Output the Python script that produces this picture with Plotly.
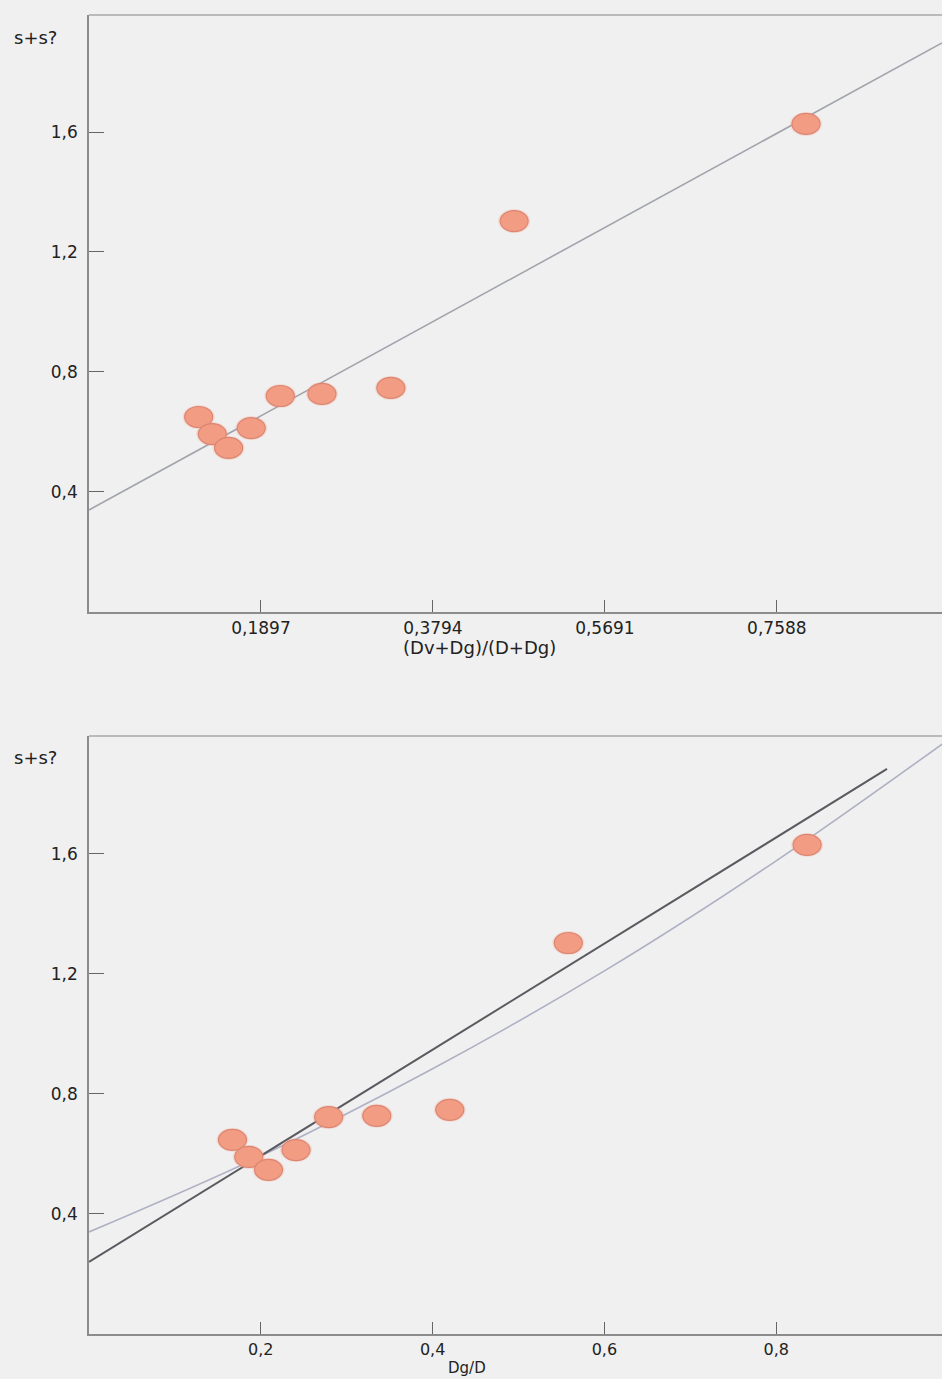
import plotly.graph_objects as go

# Upper panel: s+s? against (Dv+Dg)/(D+Dg)
ratio_dv = [0.121, 0.136, 0.154, 0.179, 0.211, 0.257, 0.333, 0.469, 0.791]
ss_top = [0.650, 0.593, 0.547, 0.613, 0.720, 0.727, 0.747, 1.303, 1.627]
fit_top_x = [0.0, 0.941]
fit_top_y = [0.34, 1.897]
top_xticks = [0.1897, 0.3794, 0.5691, 0.7588]
top_xlabels = ["0,1897", "0,3794", "0,5691", "0,7588"]

# Lower panel: s+s? against Dg/D
ratio_dg = [0.167, 0.186, 0.209, 0.241, 0.279, 0.335, 0.420, 0.558, 0.836]
ss_bot = [0.647, 0.590, 0.547, 0.613, 0.723, 0.727, 0.747, 1.303, 1.630]
lin_x = [0.0, 0.929]
lin_y = [0.24, 1.883]
curve_x = [0.0, 0.2, 0.4, 0.6, 0.8, 1.0]
curve_y = [0.34, 0.593, 0.884, 1.21, 1.577, 1.98]
bot_xticks = [0.2, 0.4, 0.6, 0.8]
bot_xlabels = ["0,2", "0,4", "0,6", "0,8"]

y_ticks = [0.4, 0.8, 1.2, 1.6]
y_labels = ["0,4", "0,8", "1,2", "1,6"]

BG = "#f0f0f0"
AXIS = "#8c8c8c"
FONT = "DejaVu Sans, Verdana, sans-serif"
MARK_FILL = "#f39c84"
MARK_EDGE = "#dc8672"

fig = go.Figure()


def add_points(x, y, xa, ya):
    # elliptical blobs: a pixel-sized ellipse anchored at each data point
    for xv, yv in zip(x, y):
        fig.add_shape(type="circle", xref=xa, yref=ya,
                      xsizemode="pixel", ysizemode="pixel",
                      xanchor=xv, yanchor=yv,
                      x0=-16, x1=16, y0=-12, y1=12,
                      fillcolor="rgba(243,156,132,0.25)", line=dict(width=0),
                      layer="above")
        fig.add_shape(type="circle", xref=xa, yref=ya,
                      xsizemode="pixel", ysizemode="pixel",
                      xanchor=xv, yanchor=yv,
                      x0=-14, x1=14, y0=-10.5, y1=10.5,
                      fillcolor=MARK_FILL, line=dict(width=1.2, color=MARK_EDGE),
                      layer="above")
    fig.add_trace(go.Scatter(x=x, y=y, mode="markers", xaxis=xa, yaxis=ya,
                             marker=dict(size=19, color=MARK_FILL,
                                         line=dict(width=0)),
                             showlegend=False))


# upper panel
fig.add_trace(go.Scatter(x=fit_top_x, y=fit_top_y, mode="lines", xaxis="x", yaxis="y",
                         line=dict(color="#a2a4ac", width=1.6), showlegend=False))
add_points(ratio_dv, ss_top, "x", "y")

# lower panel
fig.add_trace(go.Scatter(x=curve_x, y=curve_y, mode="lines", xaxis="x2", yaxis="y2",
                         line=dict(color="#aeb0c4", width=1.6, shape="spline"),
                         showlegend=False))
fig.add_trace(go.Scatter(x=lin_x, y=lin_y, mode="lines", xaxis="x2", yaxis="y2",
                         line=dict(color="#5a5a60", width=2), showlegend=False))
add_points(ratio_dg, ss_bot, "x2", "y2")

axis_common = dict(showline=True, linecolor=AXIS, linewidth=1.5, showgrid=False,
                   zeroline=False, ticks="inside", tickcolor="#666")
tick_font = dict(family=FONT, size=17, color="#222")

fig.update_layout(
    width=942, height=1379,
    margin=dict(l=89, r=0, t=15, b=45),
    paper_bgcolor=BG, plot_bgcolor=BG,
    showlegend=False,
    xaxis=dict(domain=[0, 1], range=[0, 0.941], anchor="y", tickfont=tick_font,
               tickvals=top_xticks, ticktext=top_xlabels, ticklen=12, **axis_common),
    yaxis=dict(domain=[0.5474, 1], range=[0, 1.99], anchor="x", ticklabelstandoff=6,
               tickfont=tick_font,
               tickvals=y_ticks, ticktext=y_labels, ticklen=15, **axis_common),
    xaxis2=dict(domain=[0, 1], range=[0, 0.993], anchor="y2",
                tickfont=dict(tick_font, size=16),
                tickvals=bot_xticks, ticktext=bot_xlabels, ticklen=12, **axis_common),
    yaxis2=dict(domain=[0, 0.4534], range=[0, 1.993], anchor="x2", ticklabelstandoff=6,
                tickfont=tick_font,
                tickvals=y_ticks, ticktext=y_labels, ticklen=15, **axis_common),
)

# top frame edges
for xa, ya in (("x", "y"), ("x2", "y2")):
    fig.add_shape(type="line", xref=f"{xa} domain", yref=f"{ya} domain",
                  x0=0, x1=1, y0=1, y1=1, line=dict(color="#a8a8a8", width=1.5))

for text, x, y, size in (("s+s?", -0.0622, 0.9826, 18),
                         ("s+s?", -0.0622, 0.4367, 18),
                         ("(Dv+Dg)/(D+Dg)", 0.4583, 0.5201, 18),
                         ("Dg/D", 0.4431, -0.0258, 15)):
    fig.add_annotation(text=text, xref="paper", yref="paper", x=x, y=y,
                       xanchor="center", yanchor="middle", showarrow=False,
                       font=dict(family=FONT, size=size, color="#222"))

fig.write_html("out.html")
